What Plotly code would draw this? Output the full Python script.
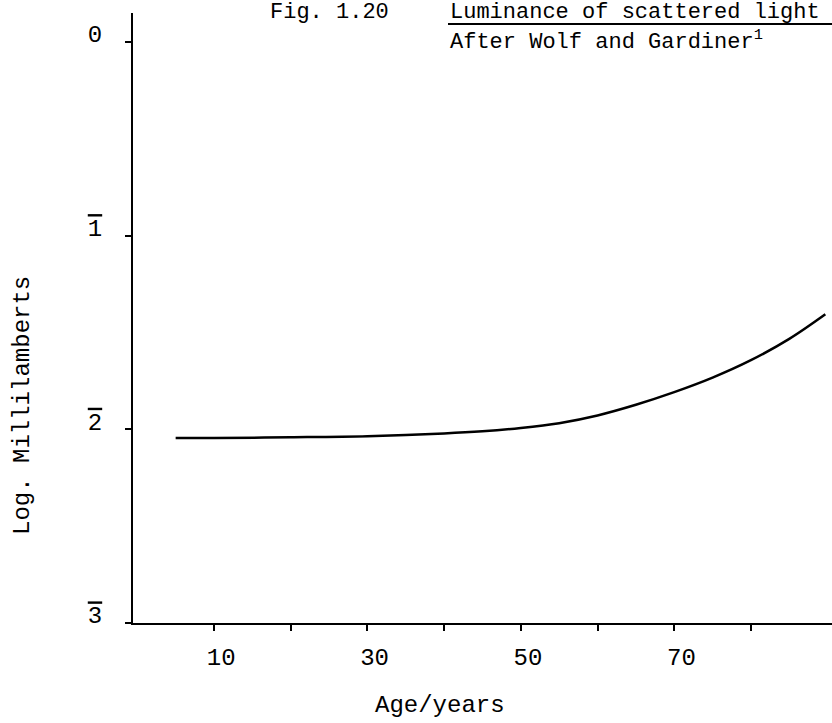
import plotly.graph_objects as go

# Data
age = [5, 10, 20, 30, 40, 45, 50, 55, 60, 65, 70, 75, 80, 85, 89.7]
log_lum = [-2.045, -2.045, -2.041, -2.035, -2.021, -2.010, -1.993, -1.968,
           -1.928, -1.873, -1.808, -1.733, -1.643, -1.533, -1.406]

x_label_vals = [10, 30, 50, 70]
x_label_text = ["\u00a010", "\u00a030", "\u00a050", "\u00a070"]
x_minor_vals = [20, 40, 60, 80]
y_label_vals = [0, -1, -2, -3]
y_label_text = ["0",
                "<span style='text-decoration:overline'>1</span>",
                "<span style='text-decoration:overline'>2</span>",
                "<span style='text-decoration:overline'>3</span>"]

FONT = "Liberation Mono"
W, H = 832, 723
L, R, T, B = 133, 0, 13, 100
PW, PH = W - L - R, H - T - B


def px(xp):
    return (xp - L) / PW


def py(yp):
    return (H - B - yp) / PH


fig = go.Figure()
fig.add_trace(go.Scatter(
    x=age, y=log_lum, mode="lines",
    line=dict(color="black", width=2.5, shape="spline", smoothing=1),
    showlegend=False, hoverinfo="skip",
))

fig.update_layout(
    width=W, height=H,
    margin=dict(l=L, r=R, t=T, b=B),
    paper_bgcolor="white", plot_bgcolor="white",
    font=dict(family=FONT, size=24, color="black"),
    xaxis=dict(
        range=[-0.56, 90.57], showgrid=False, zeroline=False,
        showline=True, linecolor="black", linewidth=2,
        ticks="outside", ticklen=6, tickwidth=1.5, tickcolor="black",
        tickvals=x_label_vals, ticktext=x_label_text,
        tickfont=dict(family=FONT, size=24, color="black"),
        ticklabelstandoff=5,
        minor=dict(tickvals=x_minor_vals, ticks="outside", ticklen=6,
                   tickwidth=1.5, tickcolor="black", showgrid=False),
    ),
    yaxis=dict(
        range=[-3, 0.15], showgrid=False, zeroline=False,
        showline=True, linecolor="black", linewidth=2,
        ticks="outside", ticklen=6, tickwidth=1.5, tickcolor="black",
        tickvals=y_label_vals, ticktext=y_label_text,
        tickfont=dict(family=FONT, size=24, color="black"),
        ticklabelstandoff=18, ticklabelshift=-8,
    ),
)

annotations = [
    dict(text="Fig. 1.20", x=px(268), y=py(12), xanchor="left", yanchor="middle", size=22),
    dict(text="Luminance of scattered light", x=px(448), y=py(12),
         xanchor="left", yanchor="middle", size=22),
    dict(text="After Wolf and Gardiner<sup>1</sup>", x=px(448), y=py(40),
         xanchor="left", yanchor="middle", size=22),
    dict(text="Log. Millilamberts", x=px(22), y=py(406), textangle=-90,
         xanchor="center", yanchor="middle", size=24),
    dict(text="Age/years", x=px(440), y=py(705), xanchor="center",
         yanchor="middle", size=24),
]
for a in annotations:
    s = a.pop("size")
    a.update(xref="paper", yref="paper", showarrow=False,
             font=dict(family=FONT, size=s, color="black"))
fig.update_layout(annotations=annotations)

fig.add_shape(type="line", xref="paper", yref="paper",
              x0=px(448), x1=1.0, y0=py(24), y1=py(24),
              line=dict(color="black", width=2))

fig.write_html("out.html")
